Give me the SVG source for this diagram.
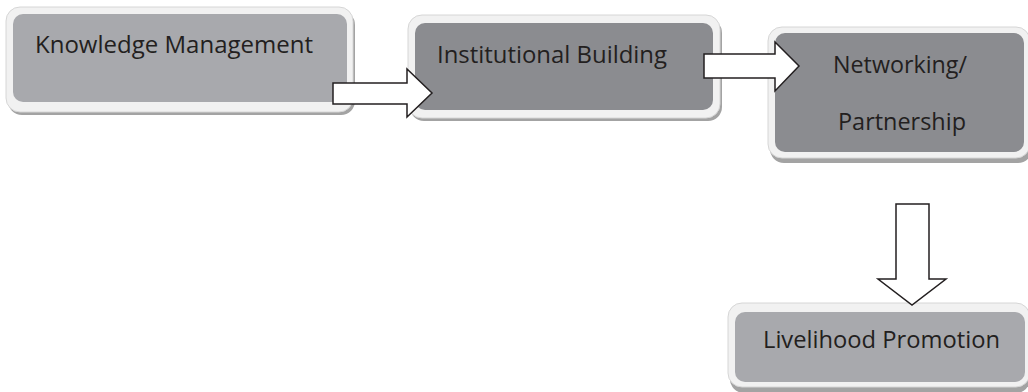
<svg xmlns="http://www.w3.org/2000/svg" width="1028" height="392" viewBox="0 0 1028 392">
  <style>
    .shadow { fill: #a3a3a3; }
    .frame { fill: #f1f1f1; stroke: #d6d6d6; stroke-width: 1; }
    .light { fill: #a8a9ad; }
    .dark { fill: #8b8c90; }
    .label { font-family: "Open Sans", "Liberation Sans", sans-serif; font-size: 24px; fill: #231f20; }
    .arrow { fill: #ffffff; stroke: #231f20; stroke-width: 1.5; stroke-linejoin: miter; }
  </style>
  <rect width="1028" height="392" fill="#ffffff"/>

  <g id="node-knowledge">
    <rect class="shadow" x="8" y="11" width="347" height="104" rx="14"/>
    <rect class="frame" x="6" y="7" width="347" height="105" rx="14"/>
    <rect class="light" x="13" y="14" width="334" height="88" rx="10"/>
    <text class="label" x="35" y="53" textLength="278" lengthAdjust="spacingAndGlyphs">Knowledge Management</text>
  </g>

  <g id="node-institutional">
    <rect class="shadow" x="410" y="19" width="312" height="102" rx="14"/>
    <rect class="frame" x="408" y="15" width="312" height="103" rx="14"/>
    <rect class="dark" x="415" y="23" width="298" height="87" rx="10"/>
    <text class="label" x="437" y="63" textLength="230" lengthAdjust="spacingAndGlyphs">Institutional Building</text>
  </g>

  <g id="node-networking">
    <rect class="shadow" x="770" y="34" width="262" height="129" rx="14"/>
    <rect class="frame" x="768" y="27" width="262" height="131" rx="14"/>
    <rect class="dark" x="775" y="33" width="249" height="119" rx="10"/>
    <text class="label" x="833" y="73" textLength="134" lengthAdjust="spacingAndGlyphs">Networking/</text>
    <text class="label" x="838" y="130" textLength="128" lengthAdjust="spacingAndGlyphs">Partnership</text>
  </g>

  <g id="node-livelihood">
    <rect class="shadow" x="730" y="307" width="300" height="86" rx="14"/>
    <rect class="frame" x="728" y="303" width="302" height="84" rx="14"/>
    <rect class="light" x="735" y="312" width="290" height="70" rx="10"/>
    <text class="label" x="763" y="348" textLength="237" lengthAdjust="spacingAndGlyphs">Livelihood Promotion</text>
  </g>

  <g id="connectors">
    <polygon class="arrow" points="333,83 407,83 407,69 432,93 407,117 407,104 333,104"/>
    <polygon class="arrow" points="704,54 775,54 775,42 799,66 775,91 775,78 704,78"/>
    <polygon class="arrow" points="896,204 929,204 929,279 946,279 912,305 878,279 896,279"/>
  </g>
</svg>
